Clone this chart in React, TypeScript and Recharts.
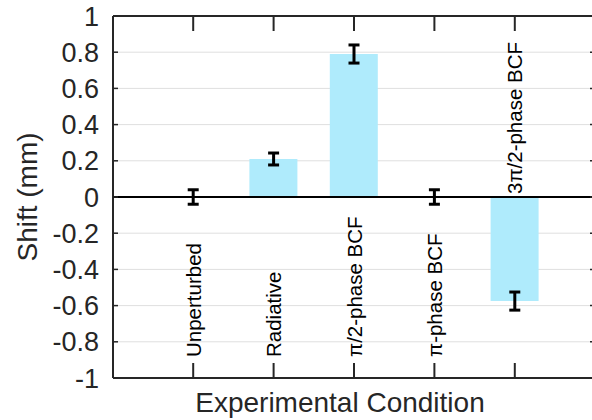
import React from 'react';
import { ComposedChart, Bar, Line, XAxis, YAxis, CartesianGrid, ErrorBar } from 'recharts';

// ---- data ----
const categories = ['Unperturbed', 'Radiative', 'π/2-phase BCF', 'π-phase BCF', '3π/2-phase BCF'];
const shifts = [0, 0.21, 0.79, 0, -0.575];
const shiftErrors = [0.04, 0.033, 0.05, 0.04, 0.05];
const yTicks = [1, 0.8, 0.6, 0.4, 0.2, 0, -0.2, -0.4, -0.6, -0.8, -1];
const yDomain: [number, number] = [-1, 1];
const xTitle = 'Experimental Condition';
const yTitle = 'Shift (mm)';

const data = categories.map((name, i) => ({ name, shift: shifts[i], err: shiftErrors[i] }));

// ---- layout ----
const W = 592;
const H = 420;
const Y_AXIS_W = 113;
const X_AXIS_H = 42;
const MARGIN_RIGHT = -3;
const PLOT_TOP = 16;
const PLOT_BOTTOM = H - X_AXIS_H;
const PLOT_LEFT = Y_AXIS_W;
const PLOT_RIGHT = W - MARGIN_RIGHT;
const AXIS = '#262626';
const FONT = '"Liberation Sans", Arial, Helvetica, sans-serif';
const BAR_FILL = '#afebfc';

const valueToY = (v: number) =>
  PLOT_TOP + ((yDomain[1] - v) / (yDomain[1] - yDomain[0])) * (PLOT_BOTTOM - PLOT_TOP);

const fmt = (v: number) => String(Math.round(v * 10) / 10);

const BottomTick = (props: any) => {
  const { x, y, payload } = props;
  const i = categories.indexOf(payload.value);
  const negative = i >= 0 && shifts[i] < 0;
  const start = negative ? valueToY(0) - 3 : y - 21;
  const ty = (PLOT_TOP + PLOT_BOTTOM) / 2;
  return (
    <g>
      <line x1={x} x2={x} y1={y} y2={y - 15} stroke={AXIS} strokeWidth={2} />
      <line x1={x} x2={x} y1={PLOT_TOP} y2={PLOT_TOP + 15} stroke={AXIS} strokeWidth={2} />
      <text
        x={x}
        y={start}
        transform={`rotate(-90 ${x} ${start})`}
        textAnchor="start"
        dominantBaseline="central"
        fontSize={20.5}
        fontFamily={FONT}
        fill="#000"
      >
        {payload.value}
      </text>
      {i === 0 && (
        <g>
          {/* plot frame: top edge, zero line, inner y ticks */}
          <line x1={PLOT_LEFT} x2={PLOT_RIGHT} y1={PLOT_TOP} y2={PLOT_TOP} stroke={AXIS} strokeWidth={2} />
          <line x1={PLOT_LEFT} x2={PLOT_RIGHT} y1={valueToY(0)} y2={valueToY(0)} stroke="#000" strokeWidth={2} />
          {yTicks.map((t) => (
            <g key={t}>
              <line x1={PLOT_LEFT} x2={PLOT_LEFT + 5} y1={valueToY(t)} y2={valueToY(t)} stroke={AXIS} strokeWidth={1.5} />
              <line x1={PLOT_RIGHT - 5} x2={PLOT_RIGHT} y1={valueToY(t)} y2={valueToY(t)} stroke={AXIS} strokeWidth={1.5} />
            </g>
          ))}
          <text x={340} y={y + 34} textAnchor="middle" fontSize={28} fontFamily={FONT} fill={AXIS}>
            {xTitle}
          </text>
          <text
            x={37}
            y={ty}
            transform={`rotate(-90 37 ${ty})`}
            textAnchor="middle"
            fontSize={28}
            fontFamily={FONT}
            fill={AXIS}
          >
            {yTitle}
          </text>
        </g>
      )}
    </g>
  );
};

export default function App() {
  return (
    <div style={{ position: 'absolute', left: 0, top: 0, width: W, height: H, background: '#fff' }}>
      <ComposedChart
        width={W}
        height={H}
        data={data}
        margin={{ top: PLOT_TOP, right: MARGIN_RIGHT, bottom: 0, left: 0 }}
      >
        <CartesianGrid vertical={false} stroke="#dfdfdf" />
        <XAxis
          dataKey="name"
          padding={{ left: 40, right: 40 }}
          height={X_AXIS_H}
          tickSize={0}
          tickMargin={0}
          tickLine={false}
          interval={0}
          tick={<BottomTick />}
          axisLine={{ stroke: AXIS, strokeWidth: 2 }}
        />
        <YAxis
          domain={yDomain}
          ticks={yTicks}
          interval={0}
          width={Y_AXIS_W}
          tickSize={14}
          tickMargin={0}
          tickLine={false}
          tickFormatter={fmt}
          tick={{ fontSize: 27, fill: AXIS, fontFamily: FONT }}
          axisLine={{ stroke: AXIS, strokeWidth: 2 }}
        />
        <Bar dataKey="shift" fill={BAR_FILL} barSize={48} isAnimationActive={false} />
        <Line dataKey="shift" stroke="none" dot={false} isAnimationActive={false}>
          <ErrorBar dataKey="err" width={5.5} strokeWidth={3} stroke="#000" direction="y" />
        </Line>
      </ComposedChart>
    </div>
  );
}
